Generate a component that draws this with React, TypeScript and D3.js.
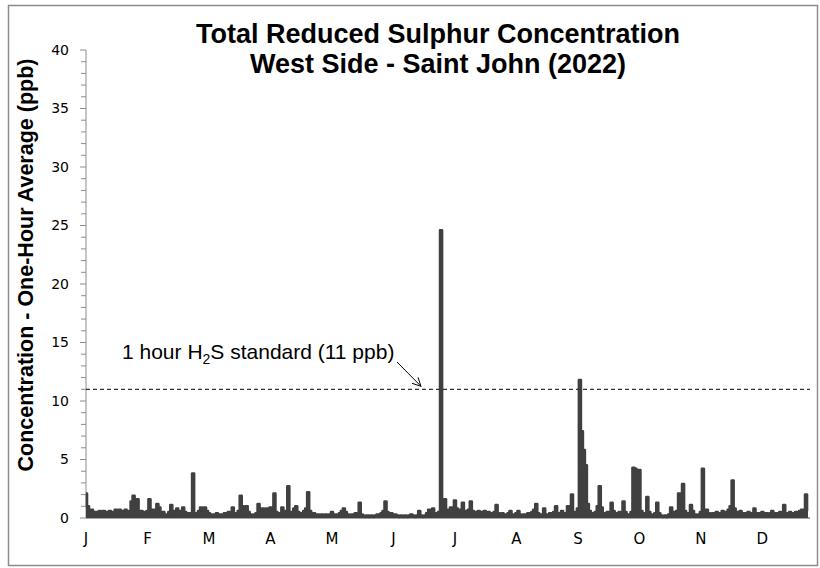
import React from 'react';
import * as d3 from 'd3';

// daily one-hour maxima (ppb)
const jan = [2.1, 1.0, 0.5, 0.7, 0.3, 0.5, 0.4, 0.6, 0.3, 0.6, 0.5, 0.4, 0.6, 0.5, 0.3, 0.7, 0.5, 0.7, 0.6, 0.4, 0.7, 0.5, 0.6, 1.4, 1.9, 0.8, 1.6, 0.5, 0.6, 0.3, 0.5];
const feb = [0.6, 1.6, 0.5, 0.7, 0.4, 1.2, 0.9, 0.4, 0.5, 0.3, 0.2, 0.5, 1.1, 0.6, 0.3, 0.8, 0.4, 0.6, 0.9, 0.5, 0.3, 0.4, 0.2, 3.8, 0.4, 0.3, 0.6, 0.9];
const mar = [0.5, 0.9, 0.6, 0.4, 0.3, 0.3, 0.2, 0.4, 0.3, 0.3, 0.2, 0.4, 0.3, 0.5, 0.3, 0.9, 0.3, 0.4, 0.6, 1.9, 1.0, 0.4, 1.0, 0.5, 0.3, 0.2, 0.3, 0.4, 1.2, 0.5, 0.8];
const apr = [0.3, 0.8, 0.4, 0.9, 0.6, 2.1, 0.5, 0.3, 0.4, 0.9, 0.4, 0.6, 2.7, 0.5, 0.3, 0.8, 1.0, 0.5, 0.3, 0.4, 0.6, 0.8, 2.2, 0.6, 0.3, 0.4, 0.2, 0.3, 0.2, 0.3];
const may = [0.2, 0.3, 0.2, 0.3, 0.5, 0.2, 0.3, 0.2, 0.4, 0.6, 0.8, 0.5, 0.3, 0.2, 0.3, 0.2, 0.4, 0.3, 1.3, 0.3, 0.2, 0.1, 0.2, 0.1, 0.2, 0.1, 0.2, 0.3, 0.2, 0.4, 0.6];
const jun = [1.4, 0.5, 0.3, 0.4, 0.2, 0.3, 0.2, 0.1, 0.2, 0.1, 0.2, 0.1, 0.2, 0.3, 0.2, 0.1, 0.2, 0.6, 0.2, 0.1, 0.2, 0.4, 0.7, 0.3, 0.8, 0.4, 0.3, 0.5, 24.6, 0.6];
const jul = [1.6, 0.7, 0.5, 0.9, 0.6, 1.5, 0.8, 0.5, 0.7, 1.3, 0.6, 0.5, 0.7, 1.4, 0.6, 0.5, 0.4, 0.6, 0.5, 0.4, 0.6, 0.4, 0.5, 0.4, 0.3, 0.5, 1.1, 0.4, 0.3, 0.4, 0.3];
const aug = [0.2, 0.4, 0.6, 0.3, 0.2, 0.4, 0.6, 0.3, 0.2, 0.3, 0.2, 0.4, 0.3, 0.5, 0.7, 1.2, 0.4, 0.2, 0.3, 0.8, 0.3, 0.2, 0.4, 0.3, 0.5, 1.0, 0.4, 0.3, 0.6, 0.3, 0.4];
const sep = [1.0, 0.6, 2.0, 0.5, 0.3, 0.8, 11.8, 7.4, 5.8, 4.5, 1.2, 0.6, 0.4, 0.3, 0.5, 1.0, 2.7, 0.9, 0.4, 0.3, 0.5, 0.4, 1.3, 0.6, 0.3, 0.4, 0.5, 0.3, 1.4, 0.5];
const oct = [0.3, 0.2, 0.5, 4.3, 4.2, 0.5, 4.1, 0.6, 0.3, 0.4, 1.8, 0.5, 0.3, 0.2, 0.4, 1.3, 0.4, 0.2, 0.1, 0.2, 0.1, 0.3, 0.9, 0.5, 0.3, 0.6, 2.1, 0.8, 2.9, 0.6, 0.3];
const nov = [0.4, 1.1, 0.6, 0.3, 0.2, 0.3, 0.5, 4.2, 0.5, 0.7, 0.4, 0.3, 0.4, 0.3, 0.5, 0.3, 0.4, 0.6, 0.3, 0.5, 0.7, 1.0, 3.2, 0.8, 0.5, 0.4, 0.6, 0.3, 0.4, 0.3];
const dec = [0.5, 0.3, 0.4, 0.8, 0.3, 0.4, 0.3, 0.5, 0.3, 0.4, 0.3, 0.4, 0.6, 0.3, 0.4, 0.3, 0.5, 0.4, 1.1, 0.4, 0.3, 0.5, 0.4, 0.3, 0.5, 0.4, 0.6, 0.7, 0.5, 2.0, 0.6];

const monthLabels = ['J', 'F', 'M', 'A', 'M', 'J', 'J', 'A', 'S', 'O', 'N', 'D'];
const yTicks = [0, 5, 10, 15, 20, 25, 30, 35, 40];
const standard = 11;
const titleLines = ['Total Reduced Sulphur Concentration', 'West Side - Saint John (2022)'];

const values = [...jan, ...feb, ...mar, ...apr, ...may, ...jun, ...jul, ...aug, ...sep, ...oct, ...nov, ...dec];

export default function App() {
  const width = 820;
  const height = 568;
  const x = d3.scaleLinear().domain([0, 365]).range([86, 810]);
  const y = d3.scaleLinear().domain([0, 40]).range([518, 50]);

  const line = d3.line<number>()
    .x((_, i) => x(i))
    .y(d => y(d))
    .curve(d3.curveStep);

  // hourly data is dense enough that the chart reads as filled underneath
  const area = d3.area<number>()
    .x((_, i) => x(i))
    .y0(y(0))
    .y1(d => y(d))
    .curve(d3.curveStep);

  const minor = d3.range(0, 41, 1);
  const axisFont = '"DejaVu Sans", sans-serif';
  const boldFont = '"Liberation Sans", Arial, sans-serif';
  const ys = y(standard);

  return (
    <svg width={width} height={height} style={{ position: 'absolute', left: 0, top: 0, background: '#fff' }}>
      <rect x={8.5} y={5.5} width={809} height={560} fill="#fff" stroke="#8c8c8c" strokeWidth={1.5} />

      {/* title */}
      {titleLines.map((t, i) => (
        <text key={i} x={438} y={43 + i * 30} textAnchor="middle" fontFamily={boldFont}
          fontWeight="bold" fontSize={27} fill="#000">{t}</text>
      ))}

      {/* y axis */}
      <line x1={x(0)} x2={x(0)} y1={y(40)} y2={y(0)} stroke="#8c8c8c" strokeWidth={1} />
      {minor.map(v => (
        <line key={'m' + v} x1={x(0) - (v % 5 === 0 ? 6 : 5)} x2={x(0)} y1={y(v)} y2={y(v)}
          stroke="#8c8c8c" strokeWidth={1} />
      ))}
      {yTicks.map(v => (
        <text key={v} x={69} y={y(v)} dy="0.35em" textAnchor="end" fontFamily={axisFont}
          fontSize={14} fill="#000">{v}</text>
      ))}
      <text transform={`translate(33,265) rotate(-90)`} textAnchor="middle" fontFamily={boldFont}
        fontWeight="bold" fontSize={21.5} fill="#000">Concentration - One-Hour Average (ppb)</text>

      {/* x labels every 744 hours (31 days) */}
      {monthLabels.map((m, i) => (
        <text key={i} x={x(i * 31)} y={544} textAnchor="middle" fontFamily={axisFont}
          fontSize={15} fill="#000">{m}</text>
      ))}

      {/* baseline */}
      <line x1={x(0)} x2={x(365)} y1={y(0)} y2={y(0)} stroke="#a6a6a6" strokeWidth={2} />

      {/* data */}
      <path d={area(values) || ''} fill="#404040" stroke="none" />
      <path d={line(values) || ''} fill="none" stroke="#404040" strokeWidth={2.6} strokeLinejoin="round" />

      {/* standard */}
      <line x1={x(0)} x2={x(365)} y1={ys} y2={ys} stroke="#333" strokeWidth={1.2}
        strokeDasharray="4,3" />
      <text x={122} y={359} fontFamily={boldFont} fontSize={21} fill="#000">
        1 hour H<tspan fontSize={14} dy={5}>2</tspan><tspan dy={-5}>S standard (11 ppb)</tspan>
      </text>
      <line x1={397} y1={362} x2={421} y2={ys - 3} stroke="#000" strokeWidth={1} />
      <path d={`M412,${ys - 6} L421,${ys - 3} L418,${ys - 12}`} fill="none"
        stroke="#000" strokeWidth={1} />
    </svg>
  );
}
